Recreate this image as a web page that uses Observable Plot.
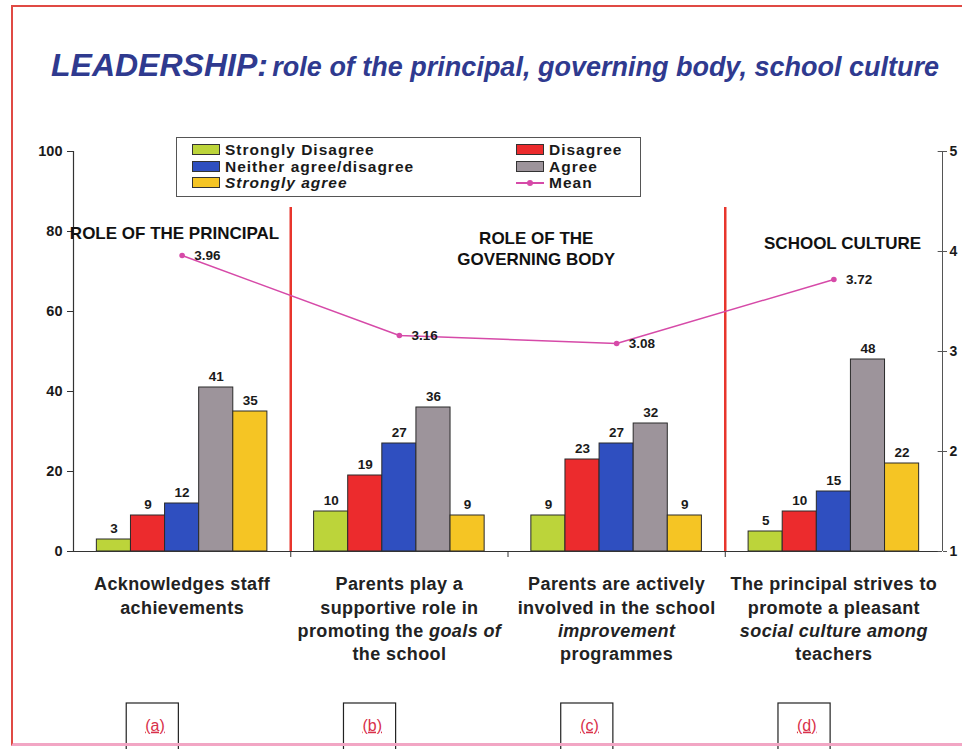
<!DOCTYPE html>
<html>
<head>
<meta charset="utf-8">
<script src="https://cdn.jsdelivr.net/npm/d3@7"></script>
<script src="https://cdn.jsdelivr.net/npm/@observablehq/plot@0.6"></script>
<style>
  body { margin: 0; background: #fff; font-family: "Liberation Sans", Arial, sans-serif; }
  #wrap { position: relative; width: 962px; height: 749px; overflow: hidden; background: #fff; }
  #frame { position: absolute; left: 11px; top: 5px; width: 1000px; height: 741px; box-sizing: border-box;
           border-left: 2px solid #e04a44; border-top: 2px solid #e04a44; border-bottom: 3px solid #f2a6c4; }
  #title { height: 100px; position: relative; }
  #title span.t { position: absolute; left: 51px; top: 49px; white-space: nowrap; line-height: 1;
           color: #2f3a8f; font-weight: bold; font-style: italic; }
  #title .big { font-size: 32px; }
  #title .small { font-size: 27px; }
  #legend { position: absolute; left: 176px; top: 137px; width: 465px; height: 60px; box-sizing: border-box;
            border: 1px solid #555; background: #fff; }
  .li { position: absolute; height: 15px; line-height: 15px; display: flex; align-items: center; font-weight: bold; font-size: 15.5px;
        letter-spacing: 1px; color: #1a1a1a; white-space: nowrap; }
  .sw { width: 26px; height: 9px; border: 1px solid #333; margin-right: 5px; }
  .mean { width: 28px; height: 9px; margin-right: 5px; position: relative; }
  .mean::before { content: ""; position: absolute; left: 0; right: 0; top: 4px; height: 1.5px; background: #d64aa8; }
  .mean::after { content: ""; position: absolute; left: 11px; top: 1.5px; width: 6px; height: 6px; border-radius: 3px; background: #d64aa8; }
  svg g[aria-label="x-axis tick label"] text { letter-spacing: 0.4px; }
  .letter text { text-decoration: underline; }
</style>
</head>
<body>
<div id="wrap">
  <div id="frame"></div>
  <div id="title"><span class="t"><span class="big">LEADERSHIP:</span> <span class="small">role of the principal, governing body, school culture</span></span></div>
  <div id="chart"></div>
  <div id="legend"></div>
</div>
<script>
// ---- data ----
const groupIds = [0, 1, 2, 3];
const groupLetters = ["(a)", "(b)", "(c)", "(d)"];
const groupLabels = [
  "Acknowledges staff\nachievements",
  "Parents play a\nsupportive role in\npromoting the goals of\nthe school",
  "Parents are actively\ninvolved in the school\nimprovement\nprogrammes",
  "The principal strives to\npromote a pleasant\nsocial culture among\nteachers"
];
const categories = ["Strongly Disagree", "Disagree", "Neither agree/disagree", "Agree", "Strongly agree"];
const stronglyDisagree = [3, 10, 9, 5];
const disagree = [9, 19, 23, 10];
const neither = [12, 27, 27, 15];
const agree = [41, 36, 32, 48];
const stronglyAgree = [35, 9, 9, 22];
const means = [3.96, 3.16, 3.08, 3.72];
const sectionTitles = ["ROLE OF THE PRINCIPAL", "ROLE OF THE\nGOVERNING BODY", "SCHOOL CULTURE"];
const leftTicks = [0, 20, 40, 60, 80, 100];
const rightTicks = [1, 2, 3, 4, 5];
const colors = ["#bcd43a", "#ec2b2d", "#2f4fc0", "#9d949b", "#f5c524"];

// ---- build ----
const series = [stronglyDisagree, disagree, neither, agree, stronglyAgree];
const rows = [];
series.forEach((vals, ci) => vals.forEach((v, gi) => rows.push({gi, ci, cat: categories[ci], v})));
const BW = 0.157;
const meanToY = m => (m - 1) * 25; // right axis 1..5 onto left 0..100
const meanRows = means.map((m, gi) => ({gi, m}));
const sections = [
  {t: sectionTitles[0], x: -0.035, y: 79.8},
  {t: sectionTitles[1], x: 1.63, y: 76},
  {t: sectionTitles[2], x: 3.04, y: 77.3}
];

const chart = Plot.plot({
  width: 962,
  height: 649,
  marginTop: 51,
  marginBottom: 198,
  marginLeft: 73,
  marginRight: 20,
  style: {fontFamily: "'Liberation Sans', Arial, sans-serif", fontSize: "14px", background: "transparent", color: "#1a1a1a", overflow: "visible"},
  x: {type: "linear", domain: [-0.5, 3.5]},
  y: {domain: [0, 100]},
  color: {domain: categories, range: colors},
  marks: [
    Plot.ruleX([0.5, 2.5], {y1: 0, y2: 86, stroke: "#e8352c", strokeWidth: 2.5}),
    Plot.rectY(rows, {x1: d => d.gi + (d.ci - 2.5) * BW, x2: d => d.gi + (d.ci - 1.5) * BW, y: "v",
      fill: "cat", stroke: "#2a2a2a", strokeWidth: 1}),
    Plot.text(rows, {x: d => d.gi + (d.ci - 2) * BW, y: "v", text: d => String(d.v), dy: -11,
      fontSize: 13.5, fontWeight: "bold", fill: "#1a1a1a"}),
    Plot.ruleY([0], {x1: -0.5, x2: 3.5, stroke: "#333", strokeWidth: 1.2}),
    Plot.ruleX([-0.5], {y1: 0, y2: 100, stroke: "#333", strokeWidth: 1.2}),
    Plot.ruleX([3.5], {y1: 0, y2: 100, stroke: "#555", strokeWidth: 1}),
    Plot.ruleX([0.5, 1.5, 2.5], {y1: 0, y2: -1.5, stroke: "#333"}),
    Plot.axisY({anchor: "left", ticks: leftTicks, tickSize: 6, tickPadding: 5, fontSize: 14.5, fontWeight: "bold", stroke: "#333"}),
    Plot.axisY({anchor: "right", ticks: rightTicks.map(meanToY), tickFormat: d => String(d / 25 + 1),
      tickSize: 4, tickPadding: 3, fontSize: 14, fontWeight: "bold", stroke: "#555"}),
    Plot.ruleY(rightTicks.map(meanToY), {x1: 3.48, x2: 3.5, stroke: "#555"}),
    Plot.axisX({ticks: groupIds, tickFormat: i => groupLabels[i], tickSize: 0, tickPadding: 22,
      fontSize: 18, fontWeight: "bold", lineHeight: 1.3, fill: "#222"}),
    Plot.line(meanRows, {x: "gi", y: d => meanToY(d.m), stroke: "#d64aa8", strokeWidth: 1.5}),
    Plot.dot(meanRows, {x: "gi", y: d => meanToY(d.m), r: 2.8, fill: "#d64aa8"}),
    Plot.text(meanRows, {x: "gi", y: d => meanToY(d.m), text: d => d.m.toFixed(2), dx: 12, textAnchor: "start",
      fontSize: 13.5, fontWeight: "bold", fill: "#1a1a1a"}),
    Plot.text(sections, {x: "x", y: "y", text: "t", fontSize: 17, fontWeight: "bold", lineHeight: 1.25, fill: "#111"}),
    Plot.rect(groupIds, {x1: i => i - 0.255, x2: i => i - 0.015, y1: -55, y2: -38, fill: "none", stroke: "#222", strokeWidth: 1.2}),
    Plot.text(groupIds, {x: i => i - 0.125, y: -43.5, text: i => groupLetters[i], fontSize: 16, fill: "#d8304a", className: "letter"})
  ]
});
document.getElementById("chart").appendChild(chart);

// italic fragments in tick labels
chart.querySelectorAll('g[aria-label="x-axis tick label"] tspan, g[aria-label="x-axis tick label"] text').forEach(el => {
  if (el.children.length) return;
  const t = el.textContent;
  if (t === "promoting the goals of") {
    el.textContent = "promoting the ";
    const it = document.createElementNS("http://www.w3.org/2000/svg", "tspan");
    it.setAttribute("font-style", "italic");
    it.textContent = "goals of";
    el.appendChild(it);
  } else if (t === "improvement" || t === "social culture among") {
    el.setAttribute("font-style", "italic");
  }
});

// legend overlay
const legend = document.getElementById("legend");
const pos = [[15, 4], [339, 4], [15, 20.5], [339, 20.5], [15, 37], [339, 37]];
categories.forEach((c, i) => {
  const d = document.createElement("div");
  d.className = "li";
  d.style.left = pos[i][0] + "px"; d.style.top = pos[i][1] + "px";
  if (c === "Strongly agree") d.style.fontStyle = "italic";
  d.innerHTML = `<span class="sw" style="background:${colors[i]}"></span>${c}`;
  legend.appendChild(d);
});
const m = document.createElement("div");
m.className = "li";
m.style.left = pos[5][0] + "px"; m.style.top = pos[5][1] + "px";
m.innerHTML = `<span class="mean"></span>Mean`;
legend.appendChild(m);
</script>
</body>
</html>
